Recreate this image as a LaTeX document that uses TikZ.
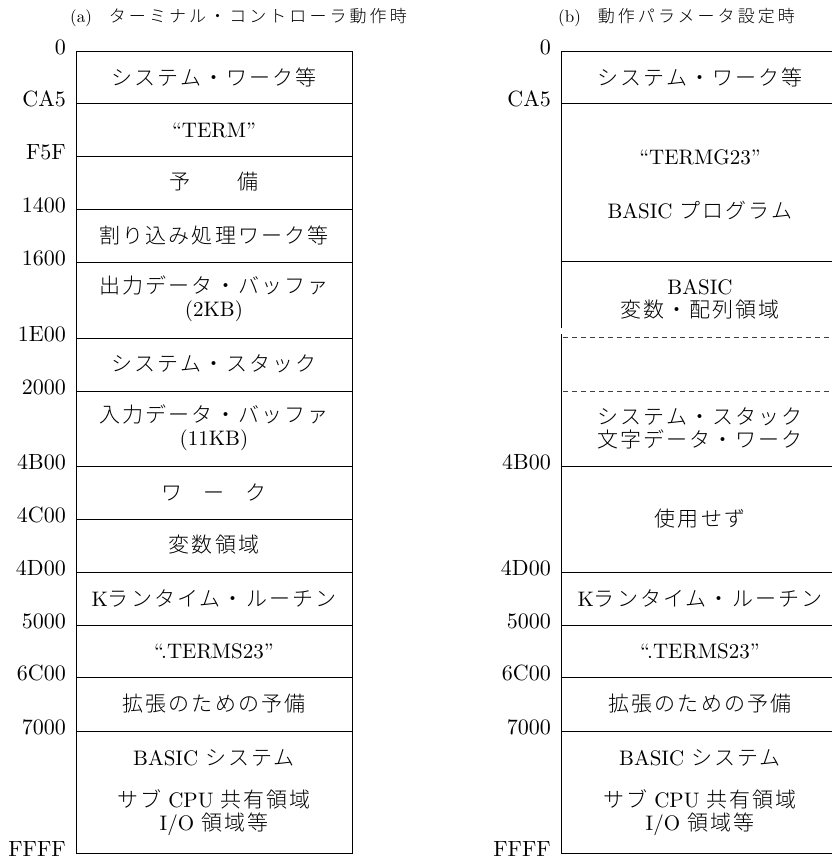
\documentclass[tikz,border=0pt]{standalone}
\usepackage{fontspec}
\setmainfont{lmroman10-regular.otf}[BoldFont=lmroman10-bold.otf,ItalicFont=lmroman10-italic.otf]
\newfontfamily\jp{Noto Sans CJK JP Light}[LetterSpace=10]
\newfontfamily\jpt{Noto Sans CJK JP Light}[LetterSpace=18]
\begin{document}
\begin{tikzpicture}[x=1pt,y=-1pt,
  addr/.style={anchor=east,font=\fontsize{22}{24}\selectfont,inner sep=0pt},
  cell/.style={align=center,font=\fontsize{21}{23}\selectfont,inner sep=0pt},
  jt/.style={font=\fontsize{17}{20}\selectfont,inner sep=0pt,anchor=west},
  wall/.style={line width=0.9pt,black},
  dashline/.style={line width=0.8pt,black!75,dash pattern=on 5pt off 4pt}]
\useasboundingbox (0,0) rectangle (831,859);
% titles
\node[jt] (ta) at (70,18) {(a)\hspace{1em}{\jpt ターミナル・コントローラ動作時}};
\node[jt] (tb) at (558,18) {(b)\hspace{1em}{\jpt 動作パラメータ設定時}};
% ---------- left panel ----------
\draw[wall] (76,51) rectangle (352,853);
\foreach \y in {103,156,209,262,338,391,466,519,572,625,677,731}
  \draw[wall] (76,\y) -- (352,\y);
\foreach \y/\t [count=\i] in {51/0,103/CA5,156/F5F,209/1400,262/1600,338/1E00,391/2000,466/4B00,519/4C00,572/4D00,625/5000,677/6C00,731/7000,853/FFFF}
  \node[addr] (la\i) at (66,\y-4) {\t};
\node[cell] (l1) at (214,77) {\jp システム・ワーク等};
\node[cell] (l2) at (214,130) {“TERM”};
\node[cell] (l3) at (214,182) {\jp 予\hspace{2.2em}備};
\node[cell] (l4) at (214,235) {\jp 割り込み処理ワーク等};
\node[cell] (l5) at (214,299) {{\jp 出力データ・バッファ}\\(2KB)};
\node[cell] (l6) at (214,364) {\jp システム・スタック};
\node[cell] (l7) at (214,428) {{\jp 入力データ・バッファ}\\(11KB)};
\node[cell] (l8) at (214,492) {\jp ワ\hspace{1em}ー\hspace{1em}ク};
\node[cell] (l9) at (214,545) {\jp 変数領域};
\node[cell] (l10) at (214,598) {K{\jp ランタイム・ルーチン}};
\node[cell] (l11) at (214,651) {“.TERMS23”};
\node[cell] (l12) at (214,704) {\jp 拡張のための予備};
\node[cell] (l13) at (214,758) {BASIC {\jp システム}};
\node[cell] (l14) at (214,813) {{\jp サブ} CPU {\jp 共有領域}\\I/O {\jp 領域等}};
% ---------- right panel ----------
\draw[wall] (561,51) -- (845,51);
\draw[wall] (561,853) -- (845,853);
\draw[wall] (561,51) -- (561,328);
\draw[wall] (561,334) -- (561,853);
\foreach \y in {103,261,466,572,625,677,731}
  \draw[wall] (561,\y) -- (845,\y);
\draw[dashline] (563,337) -- (831,337);
\draw[dashline] (563,391) -- (831,391);
\foreach \y/\t [count=\i] in {51/0,103/CA5,466/4B00,572/4D00,625/5000,677/6C00,731/7000,853/FFFF}
  \node[addr] (ra\i) at (551,\y-4) {\t};
\node[cell] (r1) at (700,77) {\jp システム・ワーク等};
\node[cell] (r2) at (700,157) {“TERMG23”};
\node[cell] (r3) at (700,210) {BASIC {\jp プログラム}};
\node[cell] (r4) at (700,299) {BASIC\\{\jp 変数・配列領域}};
\node[cell] (r5) at (700,428) {{\jp システム・スタック}\\{\jp 文字データ・ワーク}};
\node[cell] (r6) at (700,519) {\jp 使用せず};
\node[cell] (r7) at (700,598) {K{\jp ランタイム・ルーチン}};
\node[cell] (r8) at (700,651) {“.TERMS23”};
\node[cell] (r9) at (700,704) {\jp 拡張のための予備};
\node[cell] (r10) at (700,758) {BASIC {\jp システム}};
\node[cell] (r11) at (700,813) {{\jp サブ} CPU {\jp 共有領域}\\I/O {\jp 領域等}};
\end{tikzpicture}
\end{document}
